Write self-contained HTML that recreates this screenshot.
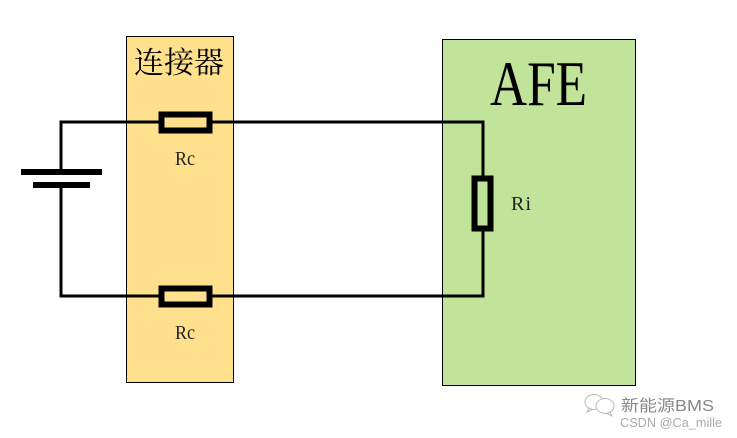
<!DOCTYPE html>
<html>
<head>
<meta charset="utf-8">
<style>
html,body{margin:0;padding:0;background:#fff;}
svg{display:block;}
</style>
</head>
<body>
<svg width="737" height="438" viewBox="0 0 737 438" xmlns="http://www.w3.org/2000/svg">
<rect x="126.5" y="36.5" width="107" height="346" fill="#FFE08C" stroke="#000" stroke-width="1"/>
<rect x="442.5" y="39.5" width="193" height="346" fill="#C1E49A" stroke="#000" stroke-width="1"/>
<g fill="none" stroke="#000" stroke-width="3">
<path d="M160 122H61V170"/>
<path d="M61 185V296H160"/>
<path d="M212 122H483V178"/>
<path d="M483 229V296H212"/>
</g>
<rect x="21" y="169" width="81" height="6" fill="#000"/>
<rect x="33" y="182" width="57" height="6" fill="#000"/>
<rect x="161.5" y="114.5" width="48" height="16" fill="#FFE08C" stroke="#000" stroke-width="6"/>
<rect x="161.5" y="288.5" width="48" height="16" fill="#FFE08C" stroke="#000" stroke-width="6"/>
<rect x="474.5" y="178.5" width="16" height="50" fill="#C1E49A" stroke="#000" stroke-width="6"/>
<text x="134" y="73" font-family="'Noto Serif CJK SC','Liberation Serif',serif" font-size="30">连接器</text>
<text x="490" y="105" font-family="'Liberation Serif',serif" font-size="64" textLength="97" lengthAdjust="spacingAndGlyphs">AFE</text>
<text x="175" y="165" font-family="'Liberation Serif',serif" font-size="20" fill="#222" textLength="20" lengthAdjust="spacingAndGlyphs">Rc</text>
<text x="175" y="339" font-family="'Liberation Serif',serif" font-size="20" fill="#222" textLength="20" lengthAdjust="spacingAndGlyphs">Rc</text>
<text x="511" y="210" font-family="'Liberation Serif',serif" font-size="20" fill="#222" textLength="20" lengthAdjust="spacing">Ri</text>
<g fill="#fff" stroke="#bbb" stroke-width="1">
<ellipse cx="594" cy="402" rx="9" ry="7.5"/>
<path d="M589 408l-2 4 5-2.5z"/>
<ellipse cx="605" cy="406" rx="9" ry="7.5"/>
<path d="M610 412l2 4-5-2.5z"/>
</g>
<text x="621" y="411" font-family="'Liberation Sans','Noto Sans CJK SC',sans-serif" font-size="16" fill="#888" textLength="93" lengthAdjust="spacingAndGlyphs">新能源BMS</text>
<text x="620" y="427" font-family="'Liberation Sans',sans-serif" font-size="13" fill="#aaa" textLength="102" lengthAdjust="spacingAndGlyphs">CSDN @Ca_mille</text>
</svg>
</body>
</html>
